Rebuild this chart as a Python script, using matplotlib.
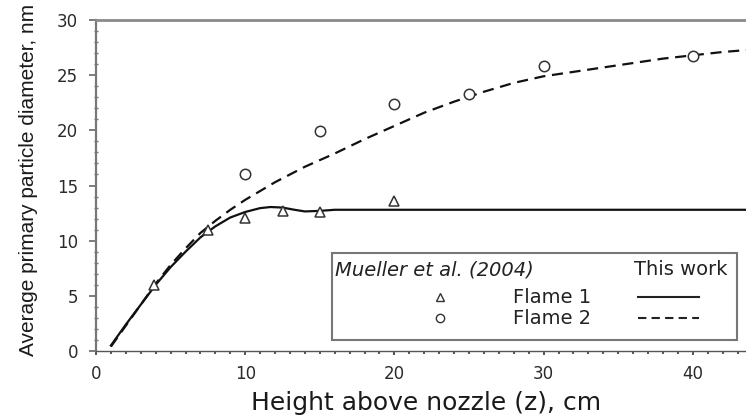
import matplotlib
matplotlib.use('Agg')
import matplotlib.pyplot as plt
from matplotlib import font_manager
from matplotlib.patches import Rectangle
from matplotlib.ticker import MultipleLocator

# Mueller et al. (2004) measurements
flame1_pts_z = [3.9, 7.5, 10, 12.5, 15, 20]
flame1_pts_d = [6.0, 11.0, 12.1, 12.7, 12.6, 13.6]
flame2_pts_z = [10, 15, 20, 25, 30, 40]
flame2_pts_d = [16.0, 19.9, 22.4, 23.3, 25.8, 26.7]

# model curves ("This work")
flame1_z = [1, 2, 3, 4, 5, 6, 7, 8, 9, 10, 11, 11.7, 12.5, 13.3, 14, 15, 16, 20, 30, 44.3]
flame1_d = [0.5, 2.4, 4.2, 6.0, 7.6, 9.0, 10.3, 11.3, 12.1, 12.6, 12.95, 13.05, 13.0, 12.8,
            12.65, 12.7, 12.8, 12.8, 12.8, 12.8]
flame2_z = [1, 2, 3, 4, 5, 6, 7, 8, 9, 10, 12, 14, 16, 18, 20, 22, 24, 26, 28, 30, 32, 35,
            38, 40, 42, 44.3]
flame2_d = [0.4, 2.3, 4.2, 6.1, 7.8, 9.3, 10.7, 11.8, 12.8, 13.7, 15.3, 16.7, 17.9, 19.2,
            20.4, 21.6, 22.6, 23.5, 24.3, 24.9, 25.3, 25.9, 26.5, 26.8, 27.1, 27.35]

# font for the (condensed looking) y label
try:
    font_manager.findfont('Liberation Sans Narrow', fallback_to_default=False)
    ylab_font, ylab_size = 'Liberation Sans Narrow', 18
except ValueError:
    ylab_font, ylab_size = 'Liberation Sans', 15

plt.rcParams['font.family'] = 'DejaVu Sans'

fig = plt.figure(figsize=(7.46, 4.15), dpi=100)
ax = fig.add_axes([0.1287, 0.1542, 0.886, 0.7976])

# curves
ax.plot(flame1_z, flame1_d, color='#111111', lw=1.6)
ax.plot(flame2_z, flame2_d, color='#111111', lw=1.6, linestyle=(0, (5, 3)))

# measured points
ax.plot(flame1_pts_z, flame1_pts_d, linestyle='none', marker='^', ms=7,
        mfc='white', mec='#333333', mew=1.1)
ax.plot(flame2_pts_z, flame2_pts_d, linestyle='none', marker='o', ms=7.5,
        mfc='white', mec='#333333', mew=1.1)

ax.set_xlim(0, 44.3)
ax.set_ylim(0, 30)
ax.xaxis.set_major_locator(MultipleLocator(10))
ax.xaxis.set_minor_locator(MultipleLocator(1))
ax.yaxis.set_major_locator(MultipleLocator(5))
ax.yaxis.set_minor_locator(MultipleLocator(1))

ax.spines['top'].set_color('#8a8a8a')
ax.spines['top'].set_linewidth(2.0)
ax.spines['left'].set_color('#777777')
ax.spines['left'].set_linewidth(1.6)
ax.spines['bottom'].set_color('#555555')
ax.spines['bottom'].set_linewidth(1.0)
ax.spines['right'].set_visible(False)

ax.tick_params(axis='y', which='major', direction='out', length=5, width=1.2,
               color='#666666', pad=8, labelsize=12, labelcolor='#2a2a2a')
ax.tick_params(axis='y', which='minor', direction='inout', length=3.5, width=1,
               color='#777777')
ax.tick_params(axis='x', which='major', direction='out', length=3, width=1.4,
               color='#555555', pad=7, labelsize=12, labelcolor='#2a2a2a')
ax.tick_params(axis='x', which='minor', direction='out', length=2, width=1.4,
               color='#555555')

ax.set_xlabel('Height above nozzle (z), cm', fontsize=18, color='#1a1a1a')
ax.xaxis.set_label_coords(0.499, -0.12)
ax.set_ylabel('Average primary particle diameter, nm', fontsize=ylab_size,
              family=ylab_font, color='#1a1a1a')
ax.yaxis.set_label_coords(-0.0877, 0.517)

# legend box drawn by hand (two header columns)
ax.add_patch(Rectangle((0.357, 0.033), 0.613, 0.263, transform=ax.transAxes,
                       facecolor='white', edgecolor='#777777', lw=1.5, zorder=5))
ax.text(0.3616, 0.245, 'Mueller et al. (2004)', transform=ax.transAxes, style='italic',
        fontsize=14, ha='left', va='center', color='#222222', zorder=6)
ax.text(0.955, 0.245, 'This work', transform=ax.transAxes, fontsize=14,
        ha='right', va='center', color='#222222', zorder=6)
ax.text(0.631, 0.163, 'Flame 1', transform=ax.transAxes, fontsize=14,
        ha='left', va='center', color='#222222', zorder=6)
ax.text(0.631, 0.0997, 'Flame 2', transform=ax.transAxes, fontsize=14,
        ha='left', va='center', color='#222222', zorder=6)
ax.plot([0.520], [0.163], transform=ax.transAxes, marker='^', ms=6, mfc='white',
        mec='#333333', mew=1, linestyle='none', zorder=6)
ax.plot([0.520], [0.0997], transform=ax.transAxes, marker='o', ms=6, mfc='white',
        mec='#333333', mew=1, linestyle='none', zorder=6)
ax.plot([0.820, 0.912], [0.163, 0.163], transform=ax.transAxes, color='#222222',
        lw=1.5, zorder=6)
ax.plot([0.820, 0.912], [0.0997, 0.0997], transform=ax.transAxes, color='#222222',
        lw=1.5, linestyle=(0, (4, 2.5)), zorder=6)

fig.savefig('out.png', dpi=100)
